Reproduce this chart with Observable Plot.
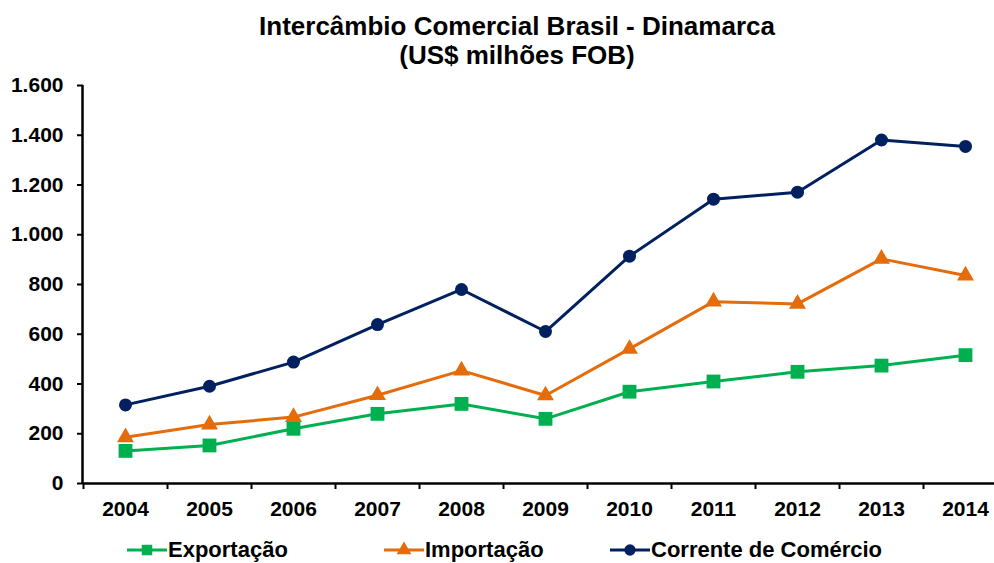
<!DOCTYPE html>
<html>
<head>
<meta charset="utf-8">
<script src="https://cdn.jsdelivr.net/npm/d3@7"></script>
<script src="https://cdn.jsdelivr.net/npm/@observablehq/plot@0.6"></script>
<style>
  body { margin: 0; background: #fff; font-family: "Liberation Sans", Arial, sans-serif; }
  #wrap { width: 994px; height: 563px; position: relative; overflow: hidden; }
  #title { height: 70px; box-sizing: border-box; padding-top: 12px; padding-left: 40px; text-align: center; font-weight: bold; font-size: 26px; line-height: 29px; color: #000; }
  #legend { position: absolute; top: 537px; left: 0; width: 994px; height: 26px; font-weight: bold; font-size: 22px; color: #000; }
  .item { position: absolute; top: 0; display: flex; align-items: center; height: 26px; }
  .item svg { display: block; }
</style>
</head>
<body>
<div id="wrap">
  <div id="title">Intercâmbio Comercial Brasil - Dinamarca<br>(US$ milhões FOB)</div>
  <div id="chart"></div>
  <div id="legend"></div>
</div>
<script>
const years = [2004, 2005, 2006, 2007, 2008, 2009, 2010, 2011, 2012, 2013, 2014];
const exportacao = [131, 153, 220, 280, 320, 260, 369, 410, 449, 474, 516];
const importacao = [186, 237, 267, 355, 454, 354, 541, 731, 722, 903, 836];
const corrente = [316, 391, 488, 639, 780, 611, 914, 1143, 1171, 1381, 1355];
const yTicks = [0, 200, 400, 600, 800, 1000, 1200, 1400, 1600];
const seriesNames = ["Exportação", "Importação", "Corrente de Comércio"];
const seriesColors = ["#00B050", "#E46C0A", "#002060"];

const rows = (vals) => years.map((y, i) => ({year: y, value: vals[i]}));
const exp = rows(exportacao), imp = rows(importacao), cor = rows(corrente);
const bounds = years.map(y => y - 0.5).concat([years[years.length - 1] + 0.5]);

const fmt = d3.formatLocale({decimal: ",", thousands: ".", grouping: [3], currency: ["", ""]}).format(",d");

const chart = Plot.plot({
  width: 994,
  height: 465,
  marginTop: 15,
  marginBottom: 52,
  marginLeft: 83,
  marginRight: 0,
  style: {fontFamily: "'Liberation Sans', Arial, sans-serif", fontSize: "21px", fontWeight: "bold", color: "#000", overflow: "visible"},
  x: {type: "linear", domain: [2003.5, 2014.5], range: [83, 1007], label: null},
  y: {domain: [0, 1600], range: [413, 15], label: null},
  marks: [
    Plot.axisY({ticks: yTicks, tickSize: 6, tickPadding: 14, tickFormat: fmt, stroke: "#000", strokeWidth: 2, fill: "#000", label: null}),
    Plot.axisX({ticks: bounds, tickSize: 6, tickFormat: () => "", stroke: "#000", strokeWidth: 2, label: null}),
    Plot.axisX({ticks: years, tickSize: 0, tickPadding: 18, tickFormat: d => String(d), fill: "#000", label: null}),
    Plot.ruleX([2003.5], {y1: 0, y2: 1600, stroke: "#000", strokeWidth: 2.5, dx: -1}),
    Plot.ruleY([0], {stroke: "#000", strokeWidth: 2.5}),
    Plot.lineY(exp, {x: "year", y: "value", stroke: seriesColors[0], strokeWidth: 3}),
    Plot.dot(exp, {x: "year", y: "value", symbol: "square", r: 7.8, fill: seriesColors[0], stroke: "none"}),
    Plot.lineY(imp, {x: "year", y: "value", stroke: seriesColors[1], strokeWidth: 3}),
    Plot.dot(imp, {x: "year", y: "value", symbol: "triangle", r: 6.3, fill: seriesColors[1], stroke: "none"}),
    Plot.lineY(cor, {x: "year", y: "value", stroke: seriesColors[2], strokeWidth: 3}),
    Plot.dot(cor, {x: "year", y: "value", symbol: "circle", r: 6.5, fill: seriesColors[2], stroke: "none"})
  ]
});
document.getElementById("chart").appendChild(chart);

// Legend
const legend = d3.select("#legend");
const legendX = [127, 384, 610];
const shapes = ["square", "triangle", "circle"];
seriesNames.forEach((name, i) => {
  const item = legend.append("div").attr("class", "item").style("left", legendX[i] + "px");
  const svg = item.append("svg").attr("width", 40).attr("height", 20);
  svg.append("line").attr("x1", 0).attr("x2", 40).attr("y1", 10).attr("y2", 10)
     .attr("stroke", seriesColors[i]).attr("stroke-width", 3);
  const sym = shapes[i] === "square" ? d3.symbolSquare : shapes[i] === "triangle" ? d3.symbolTriangle : d3.symbolCircle;
  const size = shapes[i] === "square" ? 110 : shapes[i] === "triangle" ? 95 : 100;
  svg.append("path").attr("d", d3.symbol(sym, size)()).attr("transform", "translate(20,10)").attr("fill", seriesColors[i]);
  item.append("span").style("margin-left", "1px").text(name);
});
</script>
</body>
</html>
